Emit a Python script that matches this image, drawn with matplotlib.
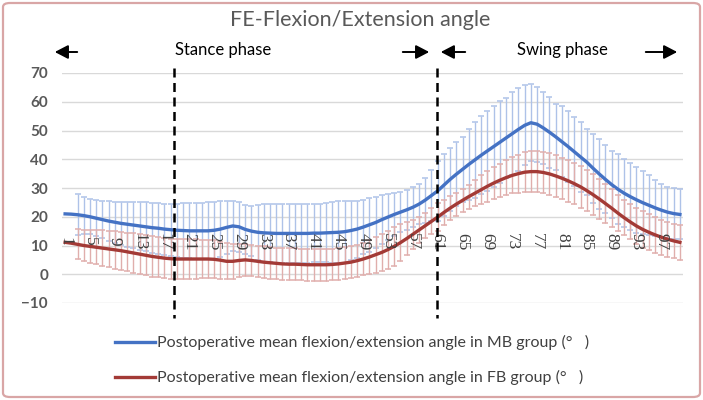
import numpy as np
import matplotlib
matplotlib.use("Agg")
import matplotlib.pyplot as plt
from matplotlib.patches import FancyBboxPatch

# gait cycle points 1..100
points = list(range(1, 101))
tick_labels = [str(p) for p in range(1, 101, 4)]

mb_mean = [21.0, 20.9, 20.7, 20.4, 20.0, 19.5, 19.0, 18.5, 18.1, 17.7,
           17.4, 17.1, 16.8, 16.5, 16.2, 16.0, 15.7, 15.5, 15.3, 15.2,
           15.1, 15.1, 15.1, 15.1, 15.3, 15.7, 16.3, 16.8, 16.5, 15.6,
           15.0, 14.6, 14.4, 14.3, 14.2, 14.2, 14.2, 14.2, 14.2, 14.2,
           14.3, 14.3, 14.4, 14.5, 14.6, 14.8, 15.2, 15.7, 16.4, 17.2,
           18.0, 19.0, 19.9, 20.8, 21.6, 22.4, 23.3, 24.4, 25.8, 27.4,
           29.0, 31.0, 33.0, 34.8, 36.5, 38.2, 39.8, 41.4, 42.9, 44.4,
           45.9, 47.4, 48.9, 50.4, 51.8, 52.7, 52.2, 50.9, 49.4, 47.8,
           46.1, 44.4, 42.6, 40.8, 39.0, 36.9, 34.9, 33.0, 31.2, 29.6,
           28.2, 27.0, 25.9, 24.9, 24.0, 23.1, 22.3, 21.6, 21.1, 20.8]

mb_sd = [np.nan, np.nan, 7.2, 6.3, 6.1, 6.2, 6.5, 6.9, 7.2, 7.5,
         7.8, 8.1, 8.3, 8.5, 8.7, 8.8, 8.9, 9.1, 9.3, 9.5,
         9.6, 9.7, 9.8, 9.9, 9.9, 9.7, 9.2, 8.7, 8.8, 8.5,
         8.8, 9.6, 10.0, 10.1, 10.2, 10.2, 10.2, 10.2, 10.2, 10.2,
         10.2, 10.2, 10.3, 10.5, 10.8, 10.8, 10.4, 9.9, 9.3, 9.4,
         9.0, 8.5, 8.0, 7.5, 7.0, 6.9, 6.9, 7.0, 7.8, 8.8,
         10.5, 10.7, 10.9, 11.2, 11.4, 12.2, 13.2, 13.6, 13.8, 14.0,
         14.2, 14.0, 14.4, 14.4, 13.9, 13.4, 13.1, 12.6, 12.3, 11.4,
         12.3, 12.3, 12.0, 12.1, 11.5, 12.0, 12.1, 11.8, 11.8, 12.2,
         11.8, 11.6, 11.4, 11.0, 10.4, 9.8, 9.2, 8.9, 8.8, 8.7]

fb_mean = [11.1, 10.8, 10.4, 10.0, 9.7, 9.4, 9.1, 8.8, 8.5, 8.2,
           7.8, 7.4, 7.0, 6.6, 6.2, 5.9, 5.6, 5.4, 5.3, 5.3,
           5.3, 5.3, 5.3, 5.3, 5.2, 4.9, 4.5, 4.5, 4.8, 5.0,
           4.8, 4.5, 4.2, 4.0, 3.8, 3.6, 3.5, 3.5, 3.4, 3.3,
           3.3, 3.3, 3.3, 3.4, 3.6, 3.9, 4.2, 4.7, 5.3, 6.0,
           6.8, 7.6, 8.6, 9.7, 11.0, 12.4, 13.9, 15.4, 16.9, 18.4,
           19.9, 21.5, 23.0, 24.4, 25.7, 27.0, 28.2, 29.4, 30.6, 31.7,
           32.7, 33.6, 34.4, 35.0, 35.5, 35.7, 35.7, 35.4, 34.9, 34.2,
           33.4, 32.5, 31.5, 30.4, 29.1, 27.7, 26.2, 24.6, 23.0, 21.3,
           19.7, 18.2, 16.8, 15.6, 14.6, 13.7, 12.9, 12.2, 11.6, 11.1]

fb_sd = [np.nan, np.nan, 5.2, 5.5, 5.8, 6.0, 6.2, 6.4, 6.5, 6.6,
         6.7, 6.8, 6.9, 7.0, 7.0, 7.0, 7.0, 6.9, 6.9, 6.9,
         6.8, 6.8, 6.7, 6.7, 6.6, 6.4, 6.2, 6.0, 5.8, 5.6,
         5.5, 5.5, 5.5, 5.5, 5.5, 5.5, 5.5, 5.5, 5.5, 5.5,
         5.5, 5.5, 5.5, 5.5, 5.5, 5.5, 5.5, 5.5, 5.7, 6.0,
         6.2, 6.4, 6.6, 6.8, 6.5, 5.8, 5.0, 4.5, 4.3, 4.5,
         4.8, 4.5, 4.2, 4.0, 4.0, 4.2, 4.6, 5.0, 5.3, 5.5,
         5.8, 6.0, 6.3, 6.6, 6.9, 7.0, 7.1, 7.2, 7.2, 7.2,
         7.2, 7.2, 7.2, 7.2, 7.1, 7.0, 6.9, 6.8, 6.6, 6.4,
         6.2, 6.1, 6.2, 6.4, 6.3, 6.2, 6.1, 6.1, 6.0, 6.0]

mb_label = "Postoperative mean flexion/extension angle in MB group (°   )"
fb_label = "Postoperative mean flexion/extension angle in FB group (°   )"
phase_bounds = [18.6, 60.85]

W, H = 703, 400
fig = plt.figure(figsize=(W / 100, H / 100), dpi=100)

# outer pinkish border
fig.patches.append(FancyBboxPatch((3 / W, 3 / H), 1 - 6 / W, 1 - 6 / H,
                                  boxstyle="round,pad=0,rounding_size=0.01",
                                  transform=fig.transFigure, fill=False,
                                  edgecolor="#D9A6A6", linewidth=1.6))

ax = fig.add_axes([62 / W, (H - 303) / H, (683 - 62) / W, (303 - 73) / H])
ax.set_xlim(0.5, 100.5)
ax.set_ylim(-10, 70)
ax.set_yticks(range(-10, 71, 10))
ax.set_xticks([])
ax.grid(axis="y", color="#D9D9D9", linewidth=1)
ax.set_axisbelow(True)
for s in ax.spines.values():
    s.set_visible(False)
ax.tick_params(axis="y", length=0, pad=10, labelsize=11, labelcolor="#595959")
for lab in ax.get_yticklabels():
    lab.set_family("Lato")
    lab.set_fontweight("bold")

x = np.array(points, dtype=float)
mbm, mbs = np.array(mb_mean), np.array(mb_sd)
fbm, fbs = np.array(fb_mean), np.array(fb_sd)
ok = ~np.isnan(mbs)

ax.errorbar(x[ok], mbm[ok], yerr=mbs[ok], fmt="none", ecolor="#AEC2E8",
            elinewidth=1.0, capsize=2.3, capthick=1.1, zorder=2)
ax.plot(x, mbm, color="#4472C4", linewidth=2.4, zorder=3, label=mb_label)
ok = ~np.isnan(fbs)
ax.errorbar(x[ok], fbm[ok], yerr=fbs[ok], fmt="none", ecolor="#E0AEAC",
            elinewidth=1.0, capsize=2.3, capthick=1.1, zorder=4)
ax.plot(x, fbm, color="#A33A36", linewidth=2.4, zorder=5, label=fb_label)

# category labels, rotated, sitting around the 10 line
for t in tick_labels:
    ax.text(int(t), 11.3, t, rotation=-90, ha="center", va="center",
            fontsize=12.5, family="Liberation Serif", color="#404040", zorder=6)

# phase boundaries
for b in phase_bounds:
    ax.plot([b, b], [71.8, -15.3], color="black", linewidth=1.8,
            linestyle=(0, (3.6, 2.2)), clip_on=False, zorder=7)

fig.text(360 / W, 1 - 20 / H, "FE-Flexion/Extension angle", ha="center", va="center",
         fontsize=15.5, family="Lato", color="#595959")
fig.text(175 / W, 1 - 50 / H, "Stance phase", ha="left", va="center",
         fontsize=12, family="Lato", color="black")
fig.text(517 / W, 1 - 50 / H, "Swing phase", ha="left", va="center",
         fontsize=12, family="Lato", color="black")

arrows = [(80, 52), (400, 52), (468, 52), (643, 52)]
heads = [(52, 52), (432, 52), (438, 52), (680, 52)]
for (x0, y0), (x1, y1) in zip(arrows, heads):
    fig.add_artist(matplotlib.patches.FancyArrowPatch(
        (x0 / W, 1 - y0 / H), (x1 / W, 1 - y1 / H), transform=fig.transFigure,
        arrowstyle="-|>,head_length=5,head_width=2.6", color="black",
        linewidth=1.4, mutation_scale=1.6))

# legend drawn by hand below the plot
for lbl, col, yy in [(mb_label, "#4472C4", 342), (fb_label, "#A33A36", 377)]:
    fig.add_artist(plt.Line2D([115 / W, 155 / W], [1 - yy / H, 1 - yy / H],
                              transform=fig.transFigure, color=col, linewidth=2.4))
    fig.text(157 / W, 1 - yy / H, lbl, ha="left", va="center", fontsize=11.5,
             family="Lato", color="#404040")

fig.savefig("out.png", dpi=100)
